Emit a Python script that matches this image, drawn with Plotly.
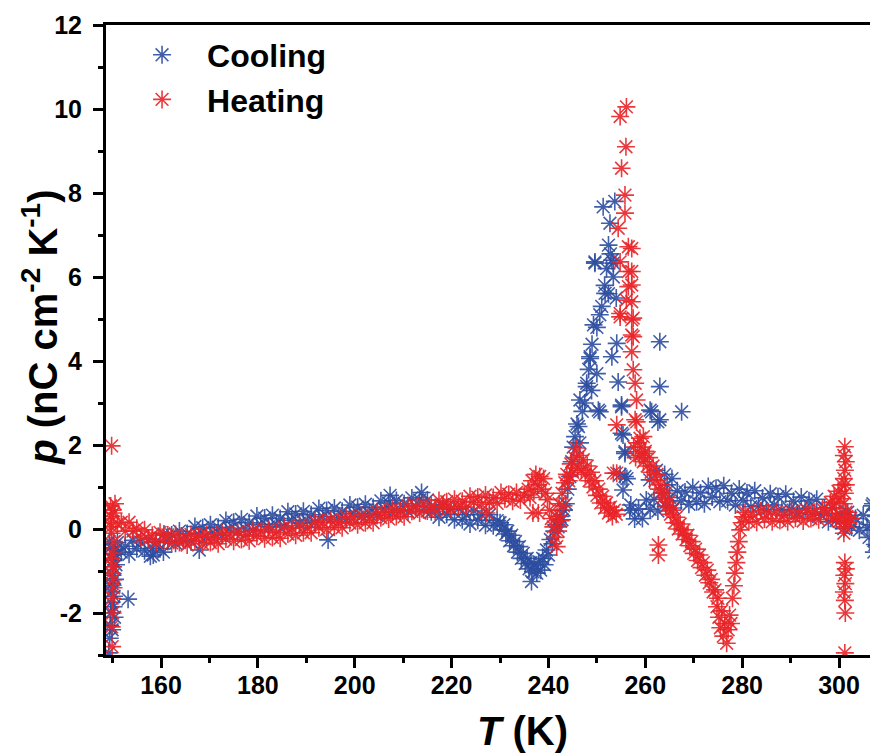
import plotly.graph_objects as go

# ---------------- Cooling (blue) ----------------
cool_T_spike = [149.2, 149.4, 149.5, 149.6, 149.7, 149.8, 149.9, 150.0, 150.1, 150.2, 150.3, 150.4,
                150.5, 150.6, 149.9, 150.2, 150.4, 150.7, 149.6, 150.0, 149.3, 149.5,
                153.2, 157.8, 158.4, 160.5, 167.9, 194.5, 207.3, 213.8]
cool_p_spike = [-2.95, -2.6, -2.3, -2.0, -1.75, -1.5, -1.3, -1.1, -0.9, -0.75, -1.6, -2.1,
                -1.2, -0.6, -2.4, -1.85, -0.5, -0.85, -1.35, -0.6, -0.3, -0.45,
                -1.67, -0.65, -0.62, -0.55, -0.5, -0.26, 0.8, 0.87]

cool_T_lowband = [151.0, 151.8, 152.6, 153.4, 154.2, 155.0, 155.8, 156.6, 157.4, 158.2, 159.0, 159.8,
                  160.6, 161.4, 162.2, 163.0, 163.8, 164.6, 165.4, 166.2, 167.0, 167.8, 168.6, 169.4,
                  170.2, 171.0, 171.8, 172.6, 173.4, 174.2, 175.0, 175.8, 176.6, 177.4, 178.2, 179.0,
                  179.8, 180.6, 181.4, 182.2, 183.0, 183.8, 184.6, 185.4, 186.2, 187.0, 187.8, 188.6,
                  189.4, 190.2, 191.0, 191.8, 192.6, 193.4, 194.2, 195.0, 195.8, 196.6, 197.4, 198.2,
                  199.0, 199.8, 200.6, 201.4, 202.2, 203.0, 203.8, 204.6, 205.4, 206.2, 207.0, 207.8,
                  208.6, 209.4, 210.2, 211.0, 211.8, 212.6, 213.4, 214.2, 215.0, 215.8, 216.6, 217.4,
                  218.2, 219.0, 219.8, 220.6, 221.4, 222.2, 223.0, 223.8, 224.6, 225.4, 226.2, 227.0,
                  227.8, 228.6, 229.4]
cool_p_lowband = [-0.32, -0.55, -0.41, -0.60, -0.27, -0.47, -0.31, -0.52, -0.24, -0.46, -0.30, -0.47,
                  -0.12, -0.30, -0.14, -0.34, -0.05, -0.27, -0.11, -0.29, 0.06, -0.13, 0.03, -0.19,
                  0.10, -0.12, 0.04, -0.15, 0.20, 0.00, 0.16, -0.06, 0.23, 0.00, 0.15, -0.04,
                  0.31, 0.11, 0.26, 0.05, 0.33, 0.10, 0.25, 0.07, 0.41, 0.21, 0.36, 0.14,
                  0.42, 0.19, 0.34, 0.15, 0.49, 0.29, 0.44, 0.22, 0.50, 0.27, 0.42, 0.23,
                  0.57, 0.37, 0.52, 0.30, 0.59, 0.36, 0.51, 0.32, 0.67, 0.47, 0.62, 0.40,
                  0.68, 0.45, 0.60, 0.41, 0.74, 0.54, 0.69, 0.46, 0.69, 0.41, 0.51, 0.28,
                  0.58, 0.35, 0.47, 0.22, 0.48, 0.22, 0.34, 0.12, 0.43, 0.21, 0.34, 0.09,
                  0.34, 0.08, 0.20]

cool_T_peak = [230.0, 230.4, 230.8, 231.2, 231.6, 232.0, 232.4, 232.8, 233.2, 233.6, 234.0, 234.4,
               234.8, 235.2, 235.6, 236.0, 236.4, 236.5, 236.8, 237.2, 237.6, 238.0, 238.4, 238.8,
               239.2, 239.6, 240.0, 240.4, 240.8, 241.2, 241.6, 242.0, 242.4, 242.8, 243.2, 243.6,
               244.0, 244.4, 244.8, 245.1, 245.5, 245.9, 246.2, 246.5, 246.5, 247.0, 247.5, 247.9,
               247.9, 248.3, 248.6, 249.0, 249.3, 249.6, 250.0, 250.0, 250.3, 250.6, 251.0, 251.3,
               251.6, 252.0, 252.4, 252.4, 252.7, 252.8, 253.1, 253.1, 253.4, 253.7, 254.1, 254.4,
               254.0, 255.1, 255.1, 255.4, 255.1, 255.8, 255.8, 255.8, 255.4, 254.8, 256.2, 256.8,
               261.0, 263.0, 263.0, 263.0, 262.6, 261.3, 267.5, 262.3, 260.9, 250.6, 248.9, 251.7,
               249.6, 253.4, 248.6, 264.5, 265.5, 264.0]
cool_p_peak = [0.15, -0.02, 0.10, -0.12, -0.05, -0.28, -0.15, -0.40, -0.30, -0.55, -0.42, -0.70,
               -0.58, -0.82, -0.70, -0.95, -0.80, -1.25, -1.02, -0.85, -1.05, -0.78, -0.98, -0.70,
               -0.85, -0.50, -0.62, -0.25, -0.35, -0.05, 0.10, 0.05, 0.30, 0.22, 0.45, 0.60,
               0.95, 1.25, 1.60, 1.95, 2.20, 2.50, 2.44, 3.07, 2.05, 2.80, 3.00, 3.47,
               3.39, 3.80, 4.10, 4.40, 4.86, 6.36, 4.80, 3.70, 2.83, 5.10, 5.30, 7.67,
               5.80, 6.20, 5.60, 6.76, 7.28, 6.55, 6.40, 4.10, 6.00, 7.80, 4.42, 3.50,
               5.50, 2.91, 2.95, 2.24, 2.28, 1.84, 1.80, 1.25, 0.93, 1.30, 1.20, 0.45,
               2.83, 4.46, 3.39, 2.60, 2.55, 2.79, 2.79, 1.40, 1.17, 2.79, 3.30, 5.61,
               6.33, 6.33, 4.06, 1.05, 1.20, 1.30]

cool_T_highband = [257.0, 257.8, 258.6, 259.4, 260.2, 261.0, 261.8, 262.6, 263.4, 264.2, 265.0, 265.8,
                   266.6, 267.4, 268.2, 269.0, 269.8, 270.6, 271.4, 272.2, 273.0, 273.8, 274.6, 275.4,
                   276.2, 277.0, 277.8, 278.6, 279.4, 280.2, 281.0, 281.8, 282.6, 283.4, 284.2, 285.0,
                   285.8, 286.6, 287.4, 288.2, 289.0, 289.8, 290.6, 291.4, 292.2, 293.0, 293.8, 294.6,
                   295.4, 296.2, 297.0, 297.8, 298.6, 299.4, 300.2, 301.0, 301.8, 302.6, 303.4, 304.2,
                   305.0, 305.8, 306.6, 307.4, 308.2, 306.8, 307.2, 307.6, 307.9, 306.2, 307.0]
cool_p_highband = [0.57, 0.24, 0.48, 0.25, 0.69, 0.47, 0.71, 0.43, 0.86, 0.53, 0.75, 0.50,
                   0.91, 0.67, 0.88, 0.59, 0.99, 0.65, 0.86, 0.60, 1.01, 0.76, 0.97, 0.65,
                   1.03, 0.67, 0.85, 0.57, 0.95, 0.68, 0.86, 0.53, 0.91, 0.55, 0.74, 0.46,
                   0.84, 0.57, 0.77, 0.45, 0.83, 0.47, 0.66, 0.38, 0.76, 0.49, 0.67, 0.35,
                   0.71, 0.33, 0.50, 0.17, 0.51, 0.20, 0.36, 0.01, 0.40, 0.05, 0.25, -0.03,
                   0.33, 0.03, 0.10, -0.37, -0.14, 0.55, -0.55, 0.30, -0.40, -0.20, 0.60]

# ---------------- Heating (red) ----------------
heat_T_spike = [149.8, 149.6, 149.7, 149.8, 149.9, 150.0, 149.8, 150.1, 149.9, 150.0, 149.8, 149.9,
                150.2, 150.3, 149.6, 150.5, 150.0, 149.5, 149.7]
heat_p_spike = [1.98, 0.55, 0.30, -0.10, -0.58, -0.90, -1.05, -1.21, -1.65, -2.00, -2.33, -2.80,
                -1.40, -0.30, -0.70, 0.60, 0.45, 0.15, 0.05]

heat_T_lowband = [150.2, 151.0, 151.8, 152.6, 153.4, 154.2, 155.0, 155.8, 156.6, 157.4, 158.2, 159.0,
                  159.8, 160.6, 161.4, 162.2, 163.0, 163.8, 164.6, 165.4, 166.2, 167.0, 167.8, 168.6,
                  169.4, 170.2, 171.0, 171.8, 172.6, 173.4, 174.2, 175.0, 175.8, 176.6, 177.4, 178.2,
                  179.0, 179.8, 180.6, 181.4, 182.2, 183.0, 183.8, 184.6, 185.4, 186.2, 187.0, 187.8,
                  188.6, 189.4, 190.2, 191.0, 191.8, 192.6, 193.4, 194.2, 195.0, 195.8, 196.6, 197.4,
                  198.2, 199.0, 199.8, 200.6, 201.4, 202.2, 203.0, 203.8, 204.6, 205.4, 206.2, 207.0,
                  207.8, 208.6, 209.4, 210.2, 211.0, 211.8, 212.6, 213.4, 214.2, 215.0, 215.8, 216.6,
                  217.4, 218.2, 219.0, 219.8, 220.6, 221.4, 222.2, 223.0, 223.8, 224.6, 225.4, 226.2,
                  227.0, 227.8, 228.6, 229.4, 230.2, 231.0, 231.8, 232.6, 233.4, 234.2, 235.0,
                  227.2, 236.8, 237.9]
heat_p_lowband = [0.38, 0.12, 0.16, -0.05, 0.16, -0.05, 0.02, -0.20, -0.02, -0.24, -0.15, -0.32,
                  -0.08, -0.25, -0.14, -0.33, -0.13, -0.32, -0.22, -0.38, -0.13, -0.29, -0.17, -0.35,
                  -0.13, -0.32, -0.21, -0.35, -0.09, -0.24, -0.12, -0.29, -0.07, -0.25, -0.14, -0.28,
                  -0.02, -0.17, -0.06, -0.23, -0.01, -0.20, -0.08, -0.22, 0.04, -0.12, 0.02, -0.15,
                  0.09, -0.09, 0.04, -0.09, 0.18, 0.03, 0.16, -0.01, 0.22, 0.04, 0.17, 0.03,
                  0.29, 0.14, 0.27, 0.10, 0.33, 0.15, 0.28, 0.15, 0.41, 0.27, 0.40, 0.24,
                  0.47, 0.30, 0.43, 0.29, 0.56, 0.42, 0.54, 0.38, 0.60, 0.43, 0.55, 0.42,
                  0.68, 0.53, 0.65, 0.49, 0.71, 0.53, 0.66, 0.52, 0.78, 0.63, 0.76, 0.59,
                  0.81, 0.63, 0.75, 0.61, 0.87, 0.72, 0.83, 0.66, 0.87, 0.69, 0.80,
                  0.38, 0.38, 0.38]

heat_T_bump = [235.8, 236.2, 236.6, 237.0, 237.4, 237.8, 238.2, 238.6, 239.0, 239.4, 239.8, 240.2,
               240.6, 241.0, 241.4, 241.7, 241.8, 242.0, 242.2, 242.5, 242.8, 243.1, 243.4, 243.8,
               244.2, 244.6, 245.0, 245.4, 245.8, 246.0, 246.4, 246.8, 247.2, 247.6, 248.0, 248.4,
               248.8, 249.2, 249.6, 250.0, 250.4, 250.8, 251.2, 251.6, 252.0, 252.4, 252.8, 253.2,
               253.6, 254.0, 254.1, 254.1, 253.4]
heat_p_bump = [0.95, 0.75, 1.15, 0.90, 1.30, 1.05, 1.25, 0.95, 1.20, 0.85, 0.70, 0.45,
               0.25, 0.05, -0.20, -0.42, 0.30, -0.05, 0.60, 0.20, 0.85, 0.55, 1.10, 1.30,
               1.15, 1.55, 1.35, 1.70, 1.93, 1.45, 1.75, 1.40, 1.65, 1.30, 1.50, 1.15,
               1.35, 1.00, 1.15, 0.80, 0.95, 0.62, 0.78, 0.50, 0.62, 0.38, 0.52, 0.30,
               0.45, 0.35, 1.33, 2.48, 1.33]

heat_T_peak = [256.1, 254.8, 256.0, 255.1, 255.8, 255.8, 254.4, 256.5, 254.8, 257.2, 257.2, 256.5,
               257.2, 256.1, 257.2, 254.8, 257.2, 257.2, 257.5, 257.9, 258.2, 257.9, 259.6, 259.9,
               258.2, 258.9, 256.5, 257.2, 257.5, 254.8, 257.5]
heat_p_peak = [10.05, 9.82, 9.10, 8.59, 7.95, 7.52, 7.16, 6.72, 6.36, 6.13, 6.68, 6.13,
               5.81, 5.45, 4.98, 5.05, 4.62, 4.22, 3.79, 3.47, 3.07, 2.60, 2.20, 1.80,
               2.55, 2.16, 5.77, 5.41, 5.02, 5.13, 4.58]

heat_T_dip = [257.6, 258.0, 258.4, 258.8, 259.2, 259.6, 260.0, 260.4, 260.8, 261.2, 261.6, 262.0,
              262.4, 262.8, 263.2, 263.6, 264.0, 264.4, 264.8, 265.2, 265.6, 266.0, 266.4, 266.8,
              267.2, 267.6, 268.0, 268.4, 268.8, 269.2, 269.6, 270.0, 270.4, 270.8, 271.2, 271.6,
              272.0, 272.4, 272.8, 273.2, 273.6, 274.0, 274.4, 274.8, 275.0, 275.2, 275.5, 275.8,
              276.1, 276.4, 276.8, 277.1, 277.4, 277.7, 278.0, 278.3, 278.5, 278.8, 279.0, 279.3,
              279.6, 279.9, 280.2, 262.7, 262.7]
heat_p_dip = [1.95, 1.70, 2.05, 1.75, 1.95, 1.60, 1.85, 1.50, 1.70, 1.35, 1.50, 1.15,
              1.30, 0.95, 1.05, 0.75, 0.85, 0.55, 0.65, 0.35, 0.45, 0.15, 0.28, 0.00,
              0.12, -0.12, -0.02, -0.25, -0.15, -0.40, -0.30, -0.58, -0.48, -0.75, -0.62, -0.92,
              -0.80, -1.10, -0.98, -1.28, -1.20, -1.50, -1.45, -1.85, -1.65, -2.10, -2.35, -1.95,
              -2.55, -2.25, -2.72, -2.40, -2.05, -2.25, -1.65, -1.35, -1.05, -0.80, -0.55, -0.30,
              -0.02, 0.15, 0.29, -0.38, -0.62]

heat_T_end = [280.6, 281.4, 282.2, 283.0, 283.8, 284.6, 285.4, 286.2, 287.0, 287.8, 288.6, 289.4,
              290.2, 291.0, 291.8, 292.6, 293.4, 294.2, 295.0, 295.8, 296.6, 297.4, 298.2, 298.6,
              299.0, 299.4, 299.8, 300.2, 300.6, 298.6, 299.4, 300.2,
              301.2, 301.0, 301.4, 301.2, 301.0, 301.4, 301.2, 301.0, 301.4, 301.2, 301.3, 301.0,
              301.2, 301.4, 301.1, 301.3, 301.0, 301.2, 301.3, 301.2, 301.6, 302.0, 302.4]
heat_p_end = [0.40, 0.18, 0.34, 0.16, 0.43, 0.24, 0.38, 0.17, 0.41, 0.20, 0.33, 0.17,
              0.42, 0.26, 0.37, 0.19, 0.44, 0.25, 0.40, 0.22, 0.48, 0.38, 0.63, 0.50,
              0.78, 0.62, 0.90, 0.72, 1.05, 0.25, 0.30, 0.20,
              1.96, 1.75, 1.60, 1.40, 1.20, 1.05, 0.85, 0.60, 0.40, 0.20, 0.05, -0.10,
              -0.80, -0.95, -1.10, -1.30, -1.50, -1.70, -2.00, -2.95, 0.30, 0.15, 0.25]

x_tick_vals = [160, 180, 200, 220, 240, 260, 280, 300]
x_tick_text = ["160", "180", "200", "220", "240", "260", "280", "300"]
y_tick_vals = [-2, 0, 2, 4, 6, 8, 10, 12]
y_tick_text = ["-2", "0", "2", "4", "6", "8", "10", "12"]

cool_T = cool_T_spike + cool_T_lowband + cool_T_peak + cool_T_highband
cool_p = cool_p_spike + cool_p_lowband + cool_p_peak + cool_p_highband
heat_T = heat_T_spike + heat_T_lowband + heat_T_bump + heat_T_peak + heat_T_dip + heat_T_end
heat_p = heat_p_spike + heat_p_lowband + heat_p_bump + heat_p_peak + heat_p_dip + heat_p_end

BLUE = "rgba(44,77,160,0.9)"
RED = "rgba(232,36,40,0.9)"
FONT = "Liberation Sans, Arial, sans-serif"

fig = go.Figure()
fig.add_trace(go.Scatter(x=cool_T, y=cool_p, mode="markers", name="Cooling",
                         marker=dict(symbol="asterisk-open", size=15, color=BLUE,
                                     line=dict(width=1.6, color=BLUE))))
fig.add_trace(go.Scatter(x=heat_T, y=heat_p, mode="markers", name="Heating",
                         marker=dict(symbol="asterisk-open", size=15, color=RED,
                                     line=dict(width=1.6, color=RED))))

axis_common = dict(showgrid=False, zeroline=False, showline=True, linewidth=3, linecolor="black",
                   ticks="outside", ticklen=10, tickwidth=3, tickcolor="black",
                   tickfont=dict(family=FONT, size=25, color="black", weight="bold"))

fig.update_xaxes(range=[148.64, 308.05], tickmode="array", tickvals=x_tick_vals, ticktext=x_tick_text,
                 mirror=True, ticklabelstandoff=-4,
                 minor=dict(dtick=10, tick0=150, ticks="outside", ticklen=5, tickwidth=3, tickcolor="black"),
                 **axis_common)
fig.update_yaxes(range=[-3, 12], tickmode="array", tickvals=y_tick_vals, ticktext=y_tick_text,
                 ticklabelstandoff=6,
                 minor=dict(dtick=1, tick0=0, ticks="outside", ticklen=5, tickwidth=3, tickcolor="black"),
                 **axis_common)

fig.add_annotation(text="<i>T</i> (K)", xref="paper", yref="paper", x=0.539, y=-0.1206,
                   showarrow=False, xanchor="center", yanchor="middle",
                   font=dict(family=FONT, size=40, color="black", weight="bold"))
fig.add_annotation(text="<i>p</i> (nC cm<sup>-2</sup> K<sup>-1</sup>)", xref="paper", yref="paper",
                   x=-0.0855, y=0.521, textangle=-90, showarrow=False, xanchor="center", yanchor="middle",
                   font=dict(family=FONT, size=40, color="black", weight="bold"))

fig.update_layout(
    width=870, height=745,
    margin=dict(l=98, r=0, t=17, b=98),
    plot_bgcolor="white", paper_bgcolor="white",
    legend=dict(x=0.0143, y=0.996, xanchor="left", yanchor="top", bgcolor="rgba(0,0,0,0)",
                itemwidth=80, tracegroupgap=0,
                font=dict(family=FONT, size=32, color="black", weight="bold")),
)

fig.write_html("out.html")
